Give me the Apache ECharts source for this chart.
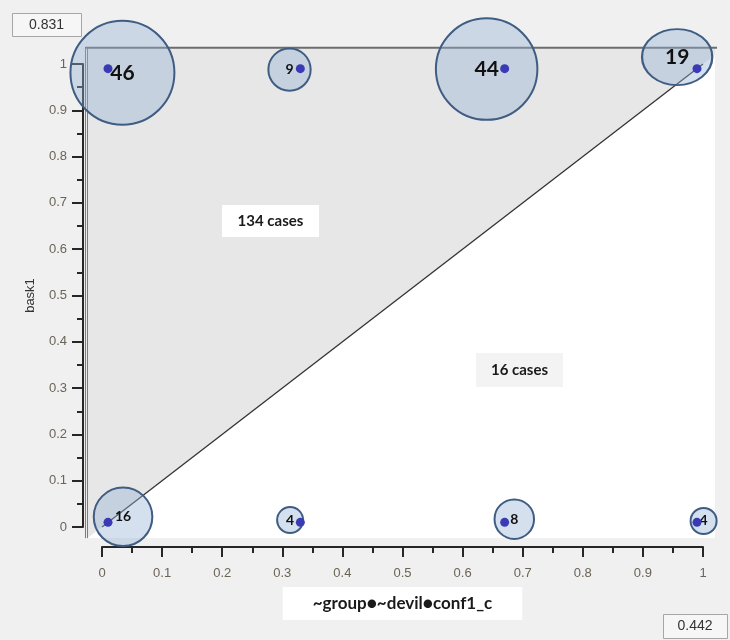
<!DOCTYPE html>
<html><head><meta charset="utf-8">
<script src="https://cdn.jsdelivr.net/npm/echarts@6/dist/echarts.min.js"></script>
<style>html,body{margin:0;padding:0;background:#f0f0f0}#c{width:730px;height:640px}</style>
</head><body><div id="c"></div>
<script>
// ---- data ----
const dotX = [0.01, 0.33, 0.67, 0.99, 0.01, 0.33, 0.67, 0.99];
const dotY = [0.99, 0.99, 0.99, 0.99, 0.01, 0.01, 0.01, 0.01];
const counts = [46, 9, 44, 19, 16, 4, 8, 4];
const bubbleX = [0.034, 0.312, 0.640, 0.957, 0.035, 0.313, 0.686, 1.001];
const bubbleY = [0.981, 0.988, 0.989, 1.015, 0.022, 0.015, 0.017, 0.013];
const diagX = [0, 1];
const diagY = [0, 1];
const xTickLabels = ['0','0.1','0.2','0.3','0.4','0.5','0.6','0.7','0.8','0.9','1'];
const yTickLabels = ['0','0.1','0.2','0.3','0.4','0.5','0.6','0.7','0.8','0.9','1'];
const caseLabels = ['134 cases', '16 cases'];
const cornerValues = ['0.831', '0.442'];
const xName = '~group\u25CF~devil\u25CFconf1_c';
const yName = 'bask1';

// ---- chart ----
const chart = echarts.init(document.getElementById('c'));
const tickFont = {color: '#6b6456', fontSize: 13, fontFamily: 'Liberation Sans, Arial, sans-serif'};
const axisCol = '#262626';
const lbl = 'Lato, Noto Sans, sans-serif';

const bubbleData = counts.map((n, i) => ({
  value: [bubbleX[i], bubbleY[i], n],
  label: {fontSize: n >= 19 ? 21 : 14}
}));
const dotData = dotX.map((x, i) => [x, dotY[i]]);
const diagData = diagX.map((x, i) => [x, diagY[i]]);

chart.setOption({
  backgroundColor: '#f0f0f0',
  animation: false,
  grid: {left: 102, right: 27, top: 64, bottom: 113},
  xAxis: {
    type: 'value', min: 0, max: 1, interval: 0.1, offset: 20,
    axisLine: {show: true, onZero: false, lineStyle: {color: axisCol, width: 2}},
    axisTick: {show: true, length: 10, lineStyle: {color: axisCol, width: 2}},
    minorTick: {show: true, splitNumber: 2, length: 6, lineStyle: {color: axisCol, width: 2}},
    splitLine: {show: false},
    axisLabel: Object.assign({margin: 20, formatter: v => xTickLabels[Math.round(v * 10)]}, tickFont),
    name: xName, nameLocation: 'middle', nameGap: 40,
    nameTextStyle: {color: '#1a1a1a', fontSize: 17, fontWeight: 'bold', fontFamily: lbl,
      backgroundColor: '#ffffff', padding: [8, 30, 8, 30]}
  },
  yAxis: {
    type: 'value', min: 0, max: 1, interval: 0.1, offset: 19,
    axisLine: {show: true, onZero: false, lineStyle: {color: axisCol, width: 2}},
    axisTick: {show: true, length: 11, lineStyle: {color: axisCol, width: 2}},
    minorTick: {show: true, splitNumber: 2, length: 6, lineStyle: {color: axisCol, width: 2}},
    splitLine: {show: false},
    axisLabel: Object.assign({margin: 16, formatter: v => yTickLabels[Math.round(v * 10)]}, tickFont),
    name: yName, nameLocation: 'middle', nameGap: 46,
    nameTextStyle: {color: '#333', fontSize: 13, fontFamily: 'Liberation Sans, Arial, sans-serif'}
  },
  series: [
    {
      type: 'custom', z: 0, clip: false, silent: true,
      data: [[0, 0]],
      renderItem: function (params, api) {
        const p = (x, y) => api.coord([x, y]);
        const x0 = -0.025, x1 = 1.02, y0 = -0.024, y1 = 1.035;
        const a = p(x0, y0), b = p(x1, y1);
        return {type: 'group', children: [
          {type: 'rect', shape: {x: a[0], y: b[1], width: b[0] - a[0], height: a[1] - b[1]}, style: {fill: '#e7e7e7'}},
          {type: 'polygon', shape: {points: [p(y0, y0), p(x1, y0), p(x1, x1)]}, style: {fill: '#ffffff'}},
          {type: 'line', shape: {x1: a[0] - 2, y1: b[1], x2: b[0] + 2, y2: b[1]}, style: {stroke: '#6c6c6c', lineWidth: 2}},
          {type: 'line', shape: {x1: a[0] - 1.5, y1: b[1], x2: a[0] - 1.5, y2: a[1]}, style: {stroke: '#7a7a7a', lineWidth: 1}},
          {type: 'line', shape: {x1: a[0] + 0.5, y1: b[1], x2: a[0] + 0.5, y2: a[1]}, style: {stroke: '#7a7a7a', lineWidth: 1}}
        ]};
      }
    },
    {
      type: 'line', z: 2, clip: false, silent: true, symbol: 'none',
      data: diagData,
      lineStyle: {color: '#333', width: 1.3}
    },
    {
      type: 'scatter', z: 3, clip: false, silent: true,
      data: bubbleData,
      symbolSize: function (v, p) {
        const d = 16.3 * Math.sqrt(v[2]) - 6.6;
        return p.dataIndex === 3 ? [d * 1.09, d * 0.87] : d;
      },
      itemStyle: {color: 'rgba(150,178,215,0.4)', borderColor: '#3f5c82', borderWidth: 2, opacity: 1},
      label: {show: true, position: 'inside', color: '#111', fontWeight: 'bold', fontFamily: lbl,
        formatter: p => String(p.value[2])}
    },
    {
      type: 'scatter', z: 4, clip: false, silent: true,
      data: dotData, symbolSize: 9,
      itemStyle: {color: '#3a3ab4', opacity: 1}
    }
  ],
  graphic: [
    {type: 'rect', left: 12, top: 13, shape: {width: 69, height: 23}, style: {fill: '#f6f6f6', stroke: '#a6a6a6', lineWidth: 1}, z: 10},
    {type: 'text', x: 46.5, y: 25, style: {text: cornerValues[0], fill: '#333', font: '14px Liberation Sans, Arial', textAlign: 'center', textVerticalAlign: 'middle'}, z: 11},
    {type: 'rect', left: 663, top: 614, shape: {width: 64, height: 24}, style: {fill: '#f6f6f6', stroke: '#a6a6a6', lineWidth: 1}, z: 10},
    {type: 'text', x: 695, y: 626.5, style: {text: cornerValues[1], fill: '#333', font: '14px Liberation Sans, Arial', textAlign: 'center', textVerticalAlign: 'middle'}, z: 11},
    {type: 'rect', left: 222, top: 205, shape: {width: 97, height: 32}, style: {fill: '#ffffff'}, z: 10},
    {type: 'text', x: 270.5, y: 221.5, style: {text: caseLabels[0], fill: '#1a1a1a', font: 'bold 15px Lato, Noto Sans, sans-serif', textAlign: 'center', textVerticalAlign: 'middle'}, z: 11},
    {type: 'rect', left: 476, top: 353, shape: {width: 87, height: 34}, style: {fill: '#f3f3f3'}, z: 10},
    {type: 'text', x: 519.5, y: 370.5, style: {text: caseLabels[1], fill: '#1a1a1a', font: 'bold 15px Lato, Noto Sans, sans-serif', textAlign: 'center', textVerticalAlign: 'middle'}, z: 11}
  ]
});
</script>
</body></html>
